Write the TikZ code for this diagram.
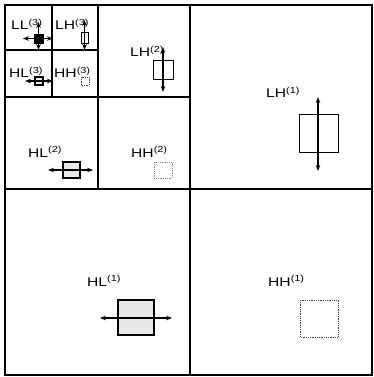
\documentclass[tikz,border=0pt]{standalone}
\usepackage{fontspec}
\setmainfont{Liberation Sans}[FakeStretch=1.25]
\usetikzlibrary{arrows.meta}
\begin{document}
\begin{tikzpicture}[x=1pt,y=-1pt,
  grid/.style={line width=1.1pt,black},
  lbl/.style={anchor=base west,inner sep=0pt,font=\fontsize{12.5}{14}\selectfont},
  arr/.style={line width=1.1pt,{Stealth[length=6pt,width=4.5pt]}-{Stealth[length=6pt,width=4.5pt]}},
  llbox/.style={fill=black,draw=black,line width=0.8pt},
  lhbox/.style={draw=black,line width=0.7pt,fill=white},
  hlbox/.style={draw=black,line width=1.6pt,fill=gray!18},
  hhbox/.style={draw=black!75,line width=0.8pt,densely dotted},
  hhlight/.style={draw=black!45,line width=0.8pt,densely dotted}]
\useasboundingbox (0,0) rectangle (373,377);
% grid
\draw[grid] (5,5) rectangle (372,375);
\draw[grid] (190,5) -- (190,375);
\draw[grid] (5,189) -- (372,189);
\draw[grid] (98,5) -- (98,189);
\draw[grid] (5,97) -- (190,97);
\draw[grid] (52,5) -- (52,97);
\draw[grid] (5,50) -- (98,50);
% labels
\node[lbl] (tLL3) at (11,30) {LL\textsuperscript{(3)}};
\node[lbl] (tLH3) at (55,30) {LH\textsuperscript{(3)}};
\node[lbl] (tHL3) at (9,78) {HL\textsuperscript{(3)}};
\node[lbl] (tHH3) at (54,78) {HH\textsuperscript{(3)}};
\node[lbl] (tLH2) at (130,57) {LH\textsuperscript{(2)}};
\node[lbl] (tHL2) at (28,157) {HL\textsuperscript{(2)}};
\node[lbl] (tHH2) at (131,157) {HH\textsuperscript{(2)}};
\node[lbl] (tLH1) at (266,98) {LH\textsuperscript{(1)}};
\node[lbl] (tHL1) at (87,286) {HL\textsuperscript{(1)}};
\node[lbl] (tHH1) at (268,286) {HH\textsuperscript{(1)}};
% level 3
\draw[llbox] (34,34) rectangle (43,43);
\coordinate (a1) at (23,38.5); \coordinate (a2) at (53,38.5);
\coordinate (a3) at (38.5,22); \coordinate (a4) at (38.5,50);
\draw[arr] (a1) -- (a2);
\draw[arr] (a3) -- (a4);
\draw[lhbox] (81,32) rectangle (88,43);
\coordinate (b1) at (84.5,20); \coordinate (b2) at (84.5,50);
\draw[arr] (b1) -- (b2);
\draw[hlbox,line width=1.2pt] (35,77) rectangle (43,85);
\coordinate (c1) at (25,81); \coordinate (c2) at (53,81);
\draw[arr] (c1) -- (c2);
\draw[hhbox] (81,77) rectangle (89,85);
% level 2
\draw[lhbox] (153,60) rectangle (173,79);
\coordinate (d1) at (163,47); \coordinate (d2) at (163,92);
\draw[arr] (d1) -- (d2);
\draw[hlbox] (63,162) rectangle (80,178);
\coordinate (e1) at (48,170); \coordinate (e2) at (93,170);
\draw[arr] (e1) -- (e2);
\draw[hhlight] (154,162) rectangle (172,178);
% level 1
\draw[lhbox] (299,114) rectangle (338,152);
\coordinate (f1) at (318,97); \coordinate (f2) at (318,171);
\draw[arr] (f1) -- (f2);
\draw[hlbox,line width=2pt] (118,300) rectangle (154,335);
\coordinate (g1) at (100,318); \coordinate (g2) at (172,318);
\draw[arr] (g1) -- (g2);
\draw[hhbox] (300,300) rectangle (338,337);
\end{tikzpicture}
\end{document}
